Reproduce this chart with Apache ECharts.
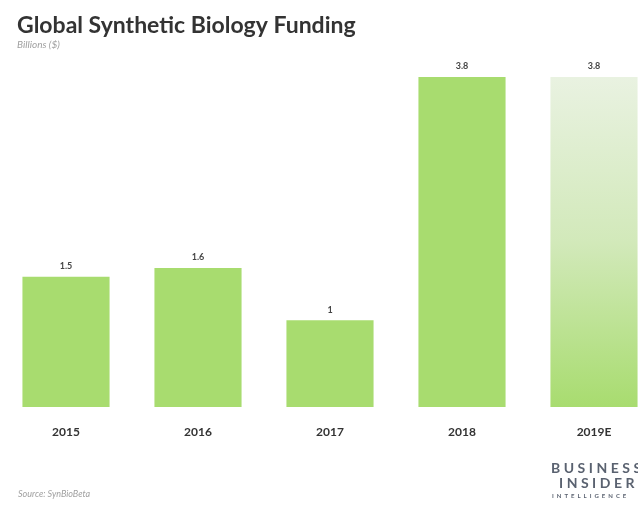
<!DOCTYPE html>
<html>
<head>
<meta charset="utf-8">
<script src="https://cdn.jsdelivr.net/npm/echarts@6/dist/echarts.min.js"></script>
<style>
html,body{margin:0;padding:0;background:#fff;}
#chart{width:638px;height:506px;}
</style>
</head>
<body>
<div id="chart"></div>
<script>
var categories = ['2015', '2016', '2017', '2018', '2019E'];
var values = [1.5, 1.6, 1, 3.8, 3.8];
var estimateIndex = 4;

function spaced(s, sep) { return s.split('').join(sep); }

var chart = echarts.init(document.getElementById('chart'));
var barColor = '#a8dc6f';
var seriesData = values.map(function (v, i) {
  if (i === estimateIndex) {
    return {
      value: v,
      itemStyle: {
        color: new echarts.graphic.LinearGradient(0, 0, 0, 1, [
          { offset: 0, color: '#e9f2e1' },
          { offset: 0.5, color: '#d2e9ba' },
          { offset: 1, color: '#a8dc6f' }
        ])
      }
    };
  }
  return v;
});

chart.setOption({
  animation: false,
  backgroundColor: '#ffffff',
  title: {
    text: 'Global Synthetic Biology Funding',
    subtext: 'Billions ($)',
    left: 12,
    top: 9,
    itemGap: 3,
    textStyle: { fontFamily: 'Lato', fontWeight: 'bold', fontSize: 23, color: '#333333' },
    subtextStyle: { fontFamily: 'Lato', fontStyle: 'italic', fontSize: 10, color: '#a0a0a0' }
  },
  grid: { left: 0, width: 660, top: 77, bottom: 99, containLabel: false, outerBoundsMode: 'none' },
  xAxis: {
    type: 'category',
    data: categories,
    axisLine: { show: false },
    axisTick: { show: false },
    axisLabel: { margin: 19, fontFamily: 'Lato', fontWeight: 'bold', fontSize: 12, color: '#333333' }
  },
  yAxis: {
    type: 'value',
    min: 0,
    max: 3.8,
    show: false,
    splitLine: { show: false }
  },
  series: [{
    type: 'bar',
    data: seriesData,
    barWidth: '66%',
    itemStyle: { color: barColor },
    label: {
      show: true,
      position: 'top',
      distance: 6,
      fontFamily: 'Lato',
      fontWeight: 'bold',
      fontSize: 9,
      color: '#444444'
    }
  }],
  graphic: [
    {
      type: 'text', left: 18, top: 490,
      style: { text: 'Source: SynBioBeta', fontFamily: 'Lato', fontStyle: 'italic', fontSize: 9, fill: '#a0a0a0' }
    },
    {
      type: 'text', left: 551, top: 461,
      style: { text: spaced('BUSINESS', '\u2005'), fontFamily: 'Lato', fontWeight: 'bold', fontSize: 14, fill: '#5a6270' }
    },
    {
      type: 'text', left: 559, top: 476,
      style: { text: spaced('INSIDER', '\u2005'), fontFamily: 'Lato', fontWeight: 'bold', fontSize: 14, fill: '#5a6270' }
    },
    {
      type: 'text', left: 552, top: 493,
      style: { text: spaced('INTELLIGENCE', '\u2002'), fontFamily: 'Lato', fontWeight: 'bold', fontSize: 6, fill: '#5a6270' }
    }
  ]
});
</script>
</body>
</html>
